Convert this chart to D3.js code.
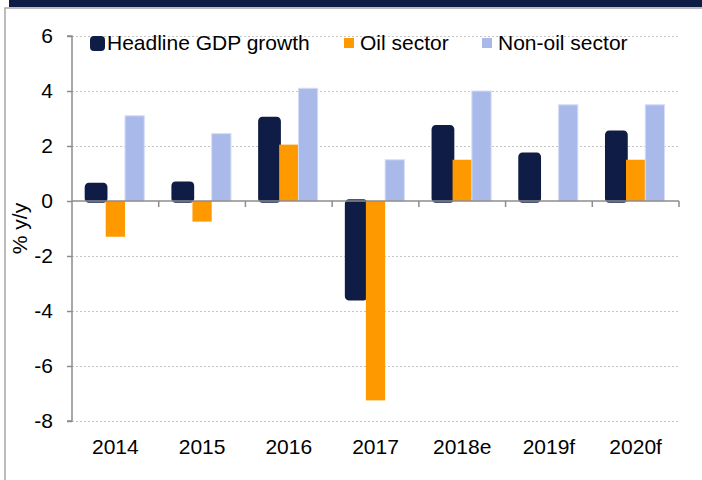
<!DOCTYPE html>
<html>
<head>
<meta charset="utf-8">
<script src="https://cdn.jsdelivr.net/npm/d3@7"></script>
<style>
  body { margin: 0; background: #fff; }
  svg text { font-family: "Liberation Sans", Arial, sans-serif; fill: #000; }
  .grid line { stroke: #c6c6c6; stroke-dasharray: 2,2; }
  .grid .domain { display: none; }
</style>
</head>
<body>
<svg width="702" height="480"></svg>
<script>
  const years = ['2014', '2015', '2016', '2017', '2018e', '2019f', '2020f'];
  const headline = [0.6, 0.65, 3.0, -3.55, 2.7, 1.7, 2.5];
  const oil = [-1.3, -0.75, 2.05, -7.25, 1.5, null, 1.5];
  const nonOil = [3.1, 2.45, 4.1, 1.5, 4.0, 3.5, 3.5];
  const yTicks = [-8, -6, -4, -2, 0, 2, 4, 6];

  const seriesNames = ['Headline GDP growth', 'Oil sector', 'Non-oil sector'];
  const colors = ['#0f1c45', '#ff9900', '#a9baea'];

  const svg = d3.select('svg');
  const plotL = 72, plotR = 679, plotT = 36, plotB = 421;
  const fontSize = '21px';

  // frame
  svg.append('rect').attr('x', 9).attr('y', 0).attr('width', 693).attr('height', 7).attr('fill', '#0f1c45');
  svg.append('path').attr('d', 'M5,480V8H702').attr('fill', 'none').attr('stroke', '#a6a6a6').attr('stroke-width', 1.5);

  const y = d3.scaleLinear().domain([-8, 6]).range([plotB, plotT]);
  const x0 = d3.scaleBand().domain(years).range([plotL, plotR]);
  const x1 = d3.scaleBand().domain(seriesNames).range([0, x0.bandwidth()]).paddingInner(0).paddingOuter(0.75);

  // dotted grid
  svg.append('g').attr('class', 'grid')
    .attr('transform', `translate(${plotL},0)`)
    .call(d3.axisLeft(y).tickValues(yTicks.filter(v => v !== 0)).tickSize(-(plotR - plotL)).tickFormat(''));

  const rows = years.map((yr, i) => ({ year: yr, vals: [headline[i], oil[i], nonOil[i]] }));

  const groups = svg.append('g').selectAll('g').data(rows).enter().append('g')
    .attr('transform', d => `translate(${x0(d.year)},0)`);

  groups.selectAll('rect')
    .data(d => d.vals.map((v, k) => ({ v, k })).filter(o => o.v !== null))
    .enter().append('rect')
    .attr('x', o => x1(seriesNames[o.k]))
    .attr('width', x1.bandwidth())
    .attr('y', o => y(Math.max(0, o.v)))
    .attr('height', o => Math.abs(y(o.v) - y(0)))
    .attr('fill', o => colors[o.k])
    .attr('rx', o => o.k === 0 ? 2.5 : 0)
    .attr('stroke', o => o.k === 0 ? colors[0] : (o.k === 2 ? '#d6def6' : 'none'))
    .attr('stroke-width', o => o.k === 0 ? 3.5 : 1);

  // y axis
  const yAxis = svg.append('g')
    .attr('transform', `translate(${plotL},0)`)
    .call(d3.axisLeft(y).tickValues(yTicks).tickSize(5).tickPadding(14).tickFormat(d => String(d)));
  yAxis.selectAll('line, .domain').attr('stroke', '#8c8c8c').attr('stroke-width', 1.5);
  yAxis.select('.domain').attr('d', `M-5,${plotT}H0V${plotB}H-5`);
  yAxis.selectAll('text').style('font-size', fontSize).attr('fill', '#000');

  // zero line with category ticks
  const zeroG = svg.append('g').attr('transform', `translate(0,${y(0)})`);
  zeroG.append('line').attr('x1', plotL).attr('x2', plotR).attr('stroke', '#8c8c8c').attr('stroke-width', 1.5);
  zeroG.selectAll('.ct').data(years).enter().append('line')
    .attr('x1', d => x0(d) + x0.bandwidth()).attr('x2', d => x0(d) + x0.bandwidth())
    .attr('y1', 0).attr('y2', 6)
    .attr('stroke', '#8c8c8c').attr('stroke-width', 1.5);

  // category labels at bottom
  const xAxis = svg.append('g')
    .attr('transform', `translate(0,${plotB})`)
    .call(d3.axisBottom(x0).tickSize(0).tickPadding(18));
  xAxis.select('.domain').remove();
  xAxis.selectAll('text').style('font-size', fontSize).attr('fill', '#000');

  // y label
  svg.append('text')
    .attr('transform', `translate(27,${(plotT + plotB) / 2}) rotate(-90)`)
    .attr('text-anchor', 'middle')
    .style('font-size', fontSize)
    .text('% y/y');

  // legend
  const legendX = [90, 344, 482];
  const leg = svg.append('g');
  seriesNames.forEach((name, k) => {
    if (k === 0) {
      leg.append('rect').attr('x', legendX[k] + 1.5).attr('y', 37.5).attr('width', 12).attr('height', 12)
        .attr('rx', 2.5).attr('fill', colors[k]).attr('stroke', colors[k]).attr('stroke-width', 3);
    } else {
      leg.append('rect').attr('x', legendX[k]).attr('y', 38).attr('width', 10).attr('height', 10).attr('fill', colors[k]);
    }
    leg.append('text')
      .attr('x', legendX[k] + (k === 0 ? 17 : 16))
      .attr('y', 50)
      .style('font-size', fontSize)
      .text(name);
  });
</script>
</body>
</html>
